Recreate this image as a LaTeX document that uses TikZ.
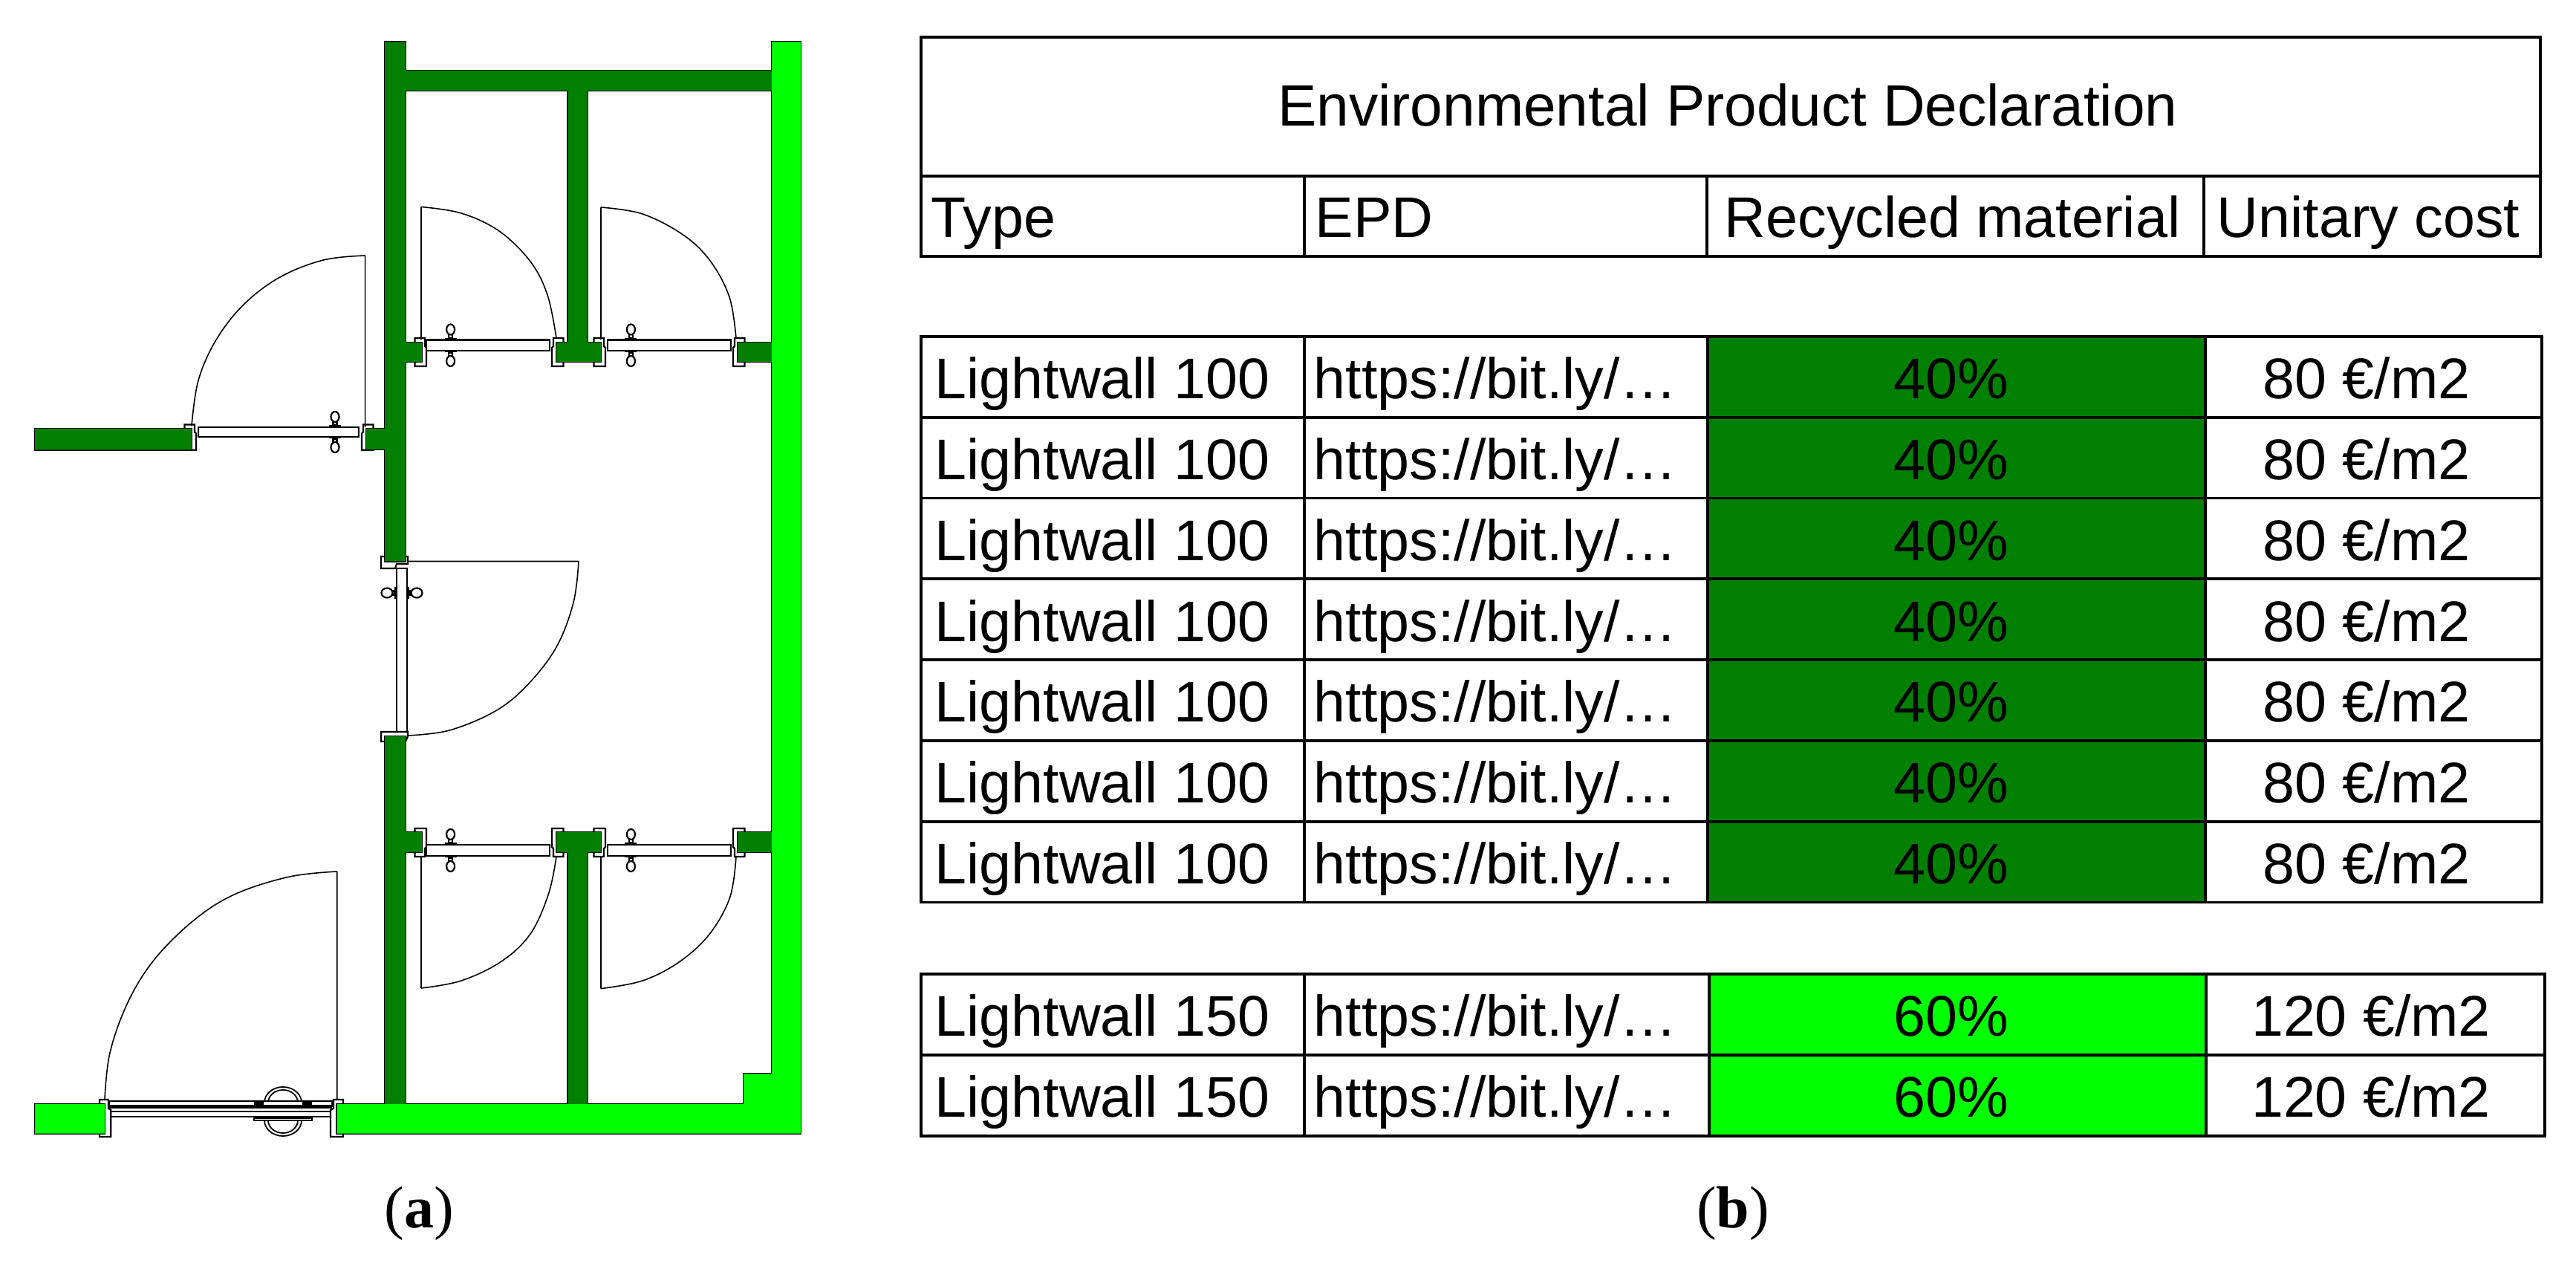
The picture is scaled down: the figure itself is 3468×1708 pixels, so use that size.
\documentclass[tikz,border=0pt]{standalone}
\usepackage{fontspec}
\setmainfont{Liberation Sans}
\newfontfamily\capfont{Liberation Serif}
\definecolor{darkwall}{HTML}{007F00}
\definecolor{brightwall}{HTML}{00FF00}
\newcommand{\DarkWalls}{
  (518,56.5)--(546,56.5)--(546,95)--(1039,95)--(1039,122)--(791,122)--(791,461)--(809,461)--(809,487)--(749,487)--(749,461)--(764.5,461)--(764.5,122)--(546,122)--(546,461)--(568,461)--(568,487)--(546,487)--(546,755.5)--(518,755.5)--(518,605)--(493,605)--(493,577)--(518,577)--cycle
  (993,461) rectangle (1041,487)
  (47,577) rectangle (258,605.5)
  (518,991)--(546,991)--(546,1120)--(568,1120)--(568,1147)--(546,1147)--(546,1488)--(518,1488)--cycle
  (749,1120)--(809,1120)--(809,1147)--(791,1147)--(791,1488)--(764.5,1488)--(764.5,1147)--(749,1147)--cycle
  (993,1120) rectangle (1041,1147)
}
\newcommand{\BrightWalls}{
  (1039,56.5)--(1078,56.5)--(1078,1525.5)--(453.5,1525.5)--(453.5,1486)--(1001,1486)--(1001,1445.4)--(1039,1445.4)--cycle
  (47,1486) rectangle (141,1525.5)
}
% door frame piece: origin = wall end at wall top, wall lies to the left
\newcommand{\FramePiece}[4]{% x, y, xscale, yscale
  \draw[framepiece,shift={(#1,#2)},xscale=#3,yscale=#4]
    (-9.5,-6)--(4,-6)--(4,5)--(6,7)--(6,32)--(-9.5,32)--cycle;}
\newcommand{\KnobSet}[3]{% x, leaf top, leaf bottom
  \fill (#1-8,#2-2.5) rectangle (#1+8,#2);
  \fill (#1-8,#3) rectangle (#1+8,#3+2.5);
  \draw[framepiece] (#1-2.5,#2-8) rectangle (#1+2.5,#2-2.5);
  \draw[framepiece] (#1-2.5,#3+2.5) rectangle (#1+2.5,#3+8);
  \draw[framepiece] (#1,#2-14) ellipse [x radius=5.5,y radius=7];
  \draw[framepiece] (#1,#3+14) ellipse [x radius=5.5,y radius=7];}
\tikzset{
  framepiece/.style={draw=black,fill=white,line width=0.55pt},
  swing/.style={draw=black,line width=0.4pt,line join=round},
  rowcell/.style={draw=black,line width=0.95pt},
  titlefont/.style={font=\fontsize{19.6}{22}\selectfont,inner sep=0pt,text=black},
  cellfont/.style={font=\fontsize{19.3}{22}\selectfont,inner sep=0pt,text=black},
  lefttext/.style={cellfont,anchor=base west},
  midtext/.style={cellfont,anchor=base},
  captext/.style={font=\fontsize{20}{24}\capfont,inner sep=0pt,anchor=base}
}
\begin{document}
\begin{tikzpicture}[x=0.25pt,y=-0.25pt]
\useasboundingbox (0,0) rectangle (3468,1708);
\fill[white] (0,0) rectangle (3468,1708);
% ---------- door leaves
\foreach \a/\b in {574/740,818/984}{
  \draw[framepiece] (\a,457.5) rectangle (\b,472);
  \draw[framepiece] (\a,1137) rectangle (\b,1152);
}
\draw[framepiece] (267,575) rectangle (483,588);
\draw[framepiece] (534,765) rectangle (548,985);
% ---------- knobs
\KnobSet{606.6}{457.5}{472}
\KnobSet{849.4}{457.5}{472}
\KnobSet{606.6}{1137}{1152}
\KnobSet{849.4}{1137}{1152}
\KnobSet{451}{575}{588}
% side door knobs
\fill (531,790) rectangle (534,806);
\fill (548,790) rectangle (551,806);
\draw[framepiece] (528,795.5) rectangle (531,800.5);
\draw[framepiece] (551,795.5) rectangle (553,800.5);
\draw[framepiece] (521,798) ellipse [x radius=7.5,y radius=6.5];
\draw[framepiece] (561,798) ellipse [x radius=7.5,y radius=6.5];
% entrance handle
\foreach \yy/\s in {1487/-1,1505/1}{
  \begin{scope}[shift={(381,\yy)},yscale=\s,line width=0.45pt]
    \draw[fill=white] (-25,3) arc[start angle=180,end angle=0,x radius=25,y radius=21];
    \draw (-20,3) arc[start angle=180,end angle=0,x radius=20,y radius=17];
    \draw[fill=white,line width=0.55pt] (-39,0) rectangle (39,3);
  \end{scope}
}
% double leaf at the entrance
\draw[framepiece] (147,1481.7) rectangle (447,1489);
\draw[framepiece] (147,1496) rectangle (447,1502.7);
\draw[line width=1.1pt] (147,1489.5)--(447,1489.5);
\draw[line width=1.1pt] (342,1485)--(355,1485) (407,1485)--(420,1485);
% ---------- door frames
\FramePiece{568}{461}{1}{1}
\FramePiece{749}{461}{-1}{1}
\FramePiece{809}{461}{1}{1}
\FramePiece{993}{461}{-1}{1}
\FramePiece{258}{577}{1}{0.9}
\FramePiece{493}{577}{-1}{0.9}
\FramePiece{568}{1147}{1}{-1}
\FramePiece{749}{1147}{-1}{-1}
\FramePiece{809}{1147}{1}{-1}
\FramePiece{993}{1147}{-1}{-1}
\draw[framepiece] (513,749)--(549,749)--(549,759)--(534,759)--(532,765)--(513,765)--cycle;
\draw[framepiece] (513,985)--(549,985)--(549,991)--(546,998)--(513,998)--cycle;
\draw[framepiece] (134,1480)--(146,1480)--(146,1492)--(149.3,1494)--(149.3,1530)--(134,1530)--cycle;
\draw[framepiece] (462,1480)--(449,1480)--(449,1492)--(445,1494)--(445,1530)--(462,1530)--cycle;
% ---------- walls: outlines, then fills that hide inner junction lines
\draw[black,line width=0.7pt] \DarkWalls;
\draw[black,line width=0.7pt] \BrightWalls;
\fill[darkwall] \DarkWalls;
\fill[brightwall] \BrightWalls;
% ---------- door swings
\draw[swing] (567,457)--(567,278.5) plot[smooth,tension=0.6] coordinates {(567,278.5)(621,287)(672,311)(714,352)(737,397)(749,455)};
\draw[swing] (809,457)--(809,279) plot[smooth,tension=0.6] coordinates {(809,279)(865,288)(919.5,316)(956,351)(982,400)(991,455)};
\draw[swing] (491.6,575)--(491.6,344) plot[smooth,tension=0.6] coordinates {(491.6,344)(435.5,350)(377,373)(328,410)(291,457.5)(267,512)(258,573)};
\draw[swing] (549,755.5)--(779,755.5) plot[smooth,tension=0.6] coordinates {(779,755.5)(772,811)(749,871)(710,922)(667,957)(605,983)(549,990)};
\draw[swing] (567,1153)--(567,1330) plot[smooth,tension=0.6] coordinates {(567,1330)(621,1320)(675,1294)(714,1257)(738.5,1203)(749,1153)};
\draw[swing] (809,1153)--(809,1330.6) plot[smooth,tension=0.6] coordinates {(809,1330.6)(865,1320)(914,1295)(954.6,1258)(982.6,1208)(991,1153)};
\draw[swing] (453.7,1480)--(453.7,1173) plot[smooth,tension=0.6] coordinates {(453.7,1173)(390,1180)(317.6,1203)(263,1237)(209,1290)(172.4,1348.5)(148,1417)(141,1480)};
% ---------- table: heading
\draw[rowcell] (1240,50) rectangle (3420,237);
\foreach \a/\b in {1240/1756,1756/2298,2298/2967,2967/3420}{
  \draw[rowcell] (\a,237) rectangle (\b,345);
}
\node[titlefont,anchor=base] (title) at (2326,170) {Environmental Product Declaration};
\node[lefttext] (hType) at (1253,320) {Type};
\node[lefttext] (hEpd) at (1770,320) {EPD};
\node[lefttext] (hRec) at (2321,320) {Recycled material};
\node[lefttext] (hCost) at (2984,320) {Unitary cost};
% ---------- table: Lightwall 100
\foreach \i in {0,...,6}{
  \pgfmathsetmacro{\yt}{453+108.8*\i}
  \pgfmathsetmacro{\yb}{453+108.8*(\i+1)}
  \pgfmathsetmacro{\yl}{\yb-25}
  \draw[rowcell] (1240,\yt) rectangle (1756,\yb);
  \draw[rowcell] (1756,\yt) rectangle (2299,\yb);
  \draw[rowcell,fill=darkwall] (2299,\yt) rectangle (2969,\yb);
  \draw[rowcell] (2969,\yt) rectangle (3422,\yb);
  \node[lefttext] (aType\i) at (1258,\yl) {Lightwall 100};
  \node[lefttext] (aEpd\i) at (1768,\yl) {https://bit.ly/…};
  \node[midtext] (aRec\i) at (2627,\yl) {40\%};
  \node[midtext] (aCost\i) at (3186,\yl) {80 €/m2};
}
% ---------- table: Lightwall 150
\foreach \i in {0,1}{
  \pgfmathsetmacro{\yt}{1311+109*\i}
  \pgfmathsetmacro{\yb}{1311+109*(\i+1)}
  \pgfmathsetmacro{\yl}{\yb-25.5}
  \draw[rowcell] (1240,\yt) rectangle (1756,\yb);
  \draw[rowcell] (1756,\yt) rectangle (2301,\yb);
  \draw[rowcell,fill=brightwall] (2301,\yt) rectangle (2970,\yb);
  \draw[rowcell] (2970,\yt) rectangle (3426,\yb);
  \node[lefttext] (bType\i) at (1258,\yl) {Lightwall 150};
  \node[lefttext] (bEpd\i) at (1768,\yl) {https://bit.ly/…};
  \node[midtext] (bRec\i) at (2627,\yl) {60\%};
  \node[midtext] (bCost\i) at (3192,\yl) {120 €/m2};
}
% ---------- captions
\node[captext] (capa) at (564,1652) {(\textbf{a})};
\node[captext] (capb) at (2333,1652) {(\textbf{b})};
\end{tikzpicture}
\end{document}
